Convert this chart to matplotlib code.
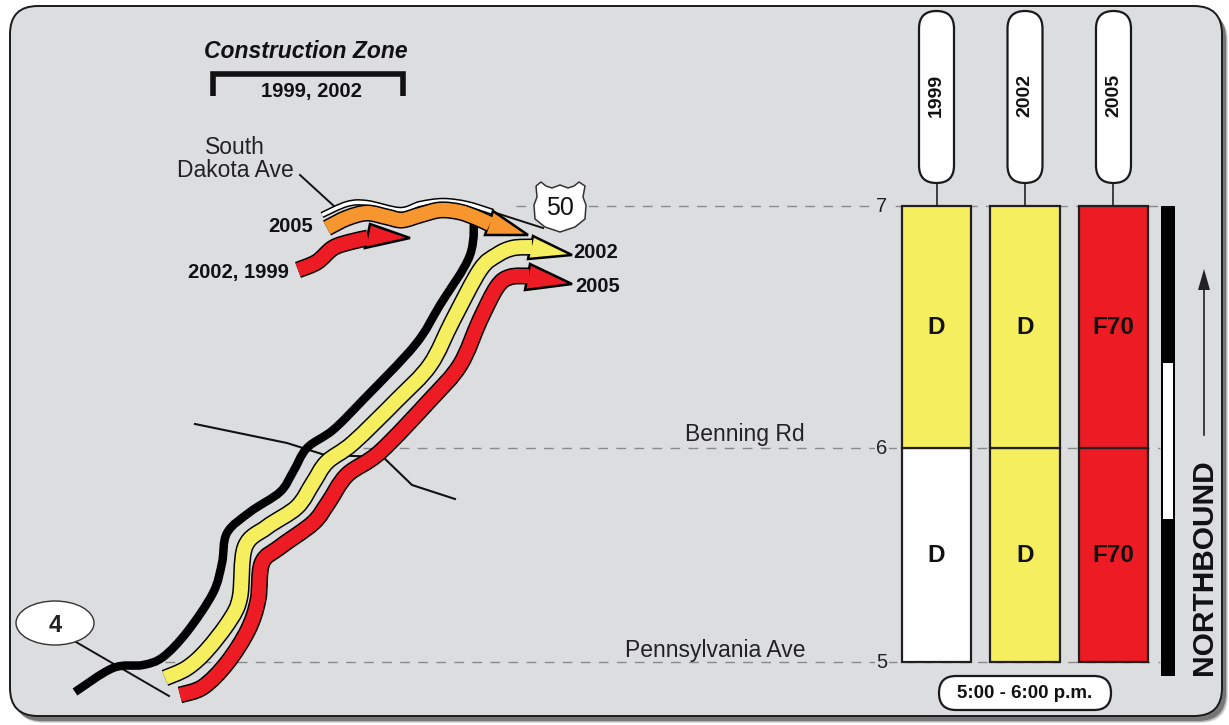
import numpy as np
import matplotlib
matplotlib.use('Agg')
import matplotlib.pyplot as plt
from matplotlib.patches import FancyBboxPatch, Ellipse, Polygon, PathPatch
from matplotlib.path import Path
from matplotlib.transforms import blended_transform_factory

plt.rcParams['font.family'] = ['Liberation Sans', 'DejaVu Sans']

# level of service per year, one list per mile segment
years = ['1999', '2002', '2005']
seg_miles = [(5, 6), (6, 7)]
seg_labels = [['D', 'D', 'F70'], ['D', 'D', 'F70']]
seg_colors = [['#ffffff', '#f5ef5f', '#ed1c24'], ['#f5ef5f', '#f5ef5f', '#ed1c24']]

# milepost reference lines, the miles are not evenly spaced on the strip
mile_ticks = [5, 6, 7]
mile_offset = [0, 214, 456]
mile_line_start = [165, 345, 516]
cross_streets = ['Pennsylvania Ave', 'Benning Rd']

# schematic queue routes (pixel positions of the map panel)
route_1999_x = [75, 113, 143, 163, 187, 213, 222, 227, 250, 280, 293, 307, 333, 363, 415, 440, 470, 474]
route_1999_y = [692, 668, 665, 657, 632, 593, 563, 533, 512, 492, 472, 448, 430, 400, 345, 305, 255, 212]
route_2002_x = [165, 187, 207, 230, 240, 245, 267, 297, 313, 327, 353, 397, 430, 453, 480, 497, 513, 532]
route_2002_y = [678, 668, 650, 620, 597, 547, 527, 507, 483, 462, 443, 400, 365, 320, 270, 255, 248, 247]
route_2005_x = [180, 203, 227, 248, 258, 262, 280, 313, 328, 347, 380, 430, 460, 480, 497, 510, 529]
route_2005_y = [695, 687, 663, 630, 600, 563, 547, 523, 503, 475, 452, 400, 365, 320, 287, 277, 276]
sd_2005_x = [327, 347, 367, 387, 402, 420, 440, 460, 477, 490]
sd_2005_y = [228, 218, 213, 217, 220, 215, 210, 212, 218, 224]
sd_2002_x = [298, 317, 333, 350, 368]
sd_2002_y = [270, 262, 248, 242, 238]
sd_road_x = [322, 347, 367, 400, 420, 443, 467, 493]
sd_road_y = [215, 204, 203, 210, 204, 201, 204, 212]
benning_x = [195, 287, 325, 383, 412, 455]
benning_y = [424, 443, 455, 457, 485, 499]


def smooth_path(xs, ys):
    # catmull-rom through the points, written as cubic bezier segments
    p = np.column_stack([xs, ys]).astype(float)
    p = np.vstack([p[0], p, p[-1]])
    verts = [p[1]]
    codes = [Path.MOVETO]
    for i in range(1, len(p) - 2):
        verts += [p[i] + (p[i + 1] - p[i - 1]) / 6, p[i + 1] - (p[i + 2] - p[i]) / 6, p[i + 1]]
        codes += [Path.CURVE4] * 3
    return Path(verts, codes)


def stroke(ax, xs, ys, color, px, z):
    ax.add_patch(PathPatch(smooth_path(xs, ys), fill=False, ec=color, lw=px * 0.72,
                           capstyle='butt', joinstyle='round', zorder=z))


def route(ax, xs, ys, color, px, z, head=None):
    stroke(ax, xs, ys, 'black', px + 3, z)
    if head is not None:
        ax.add_patch(Polygon(head, closed=True, fc=color, ec='black', lw=1.8, joinstyle='miter', zorder=z + 0.1))
    stroke(ax, xs, ys, color, px, z + 0.2)


def mile_to_pos(m):
    return np.interp(m, mile_ticks, mile_offset)


def pos_to_mile(p):
    return np.interp(p, mile_offset, mile_ticks)


fig = plt.figure(figsize=(12.29, 7.25), dpi=100, facecolor='white')
ax = fig.add_axes([0, 0, 1, 1])
ax.set_xlim(0, 1229)
ax.set_ylim(725, 0)
ax.axis('off')

# bar panel uses its own scale: mile on y, year index on x
ax_bar = fig.add_axes([902 / 1229, 1 - 662 / 725, 246 / 1229, 456 / 725])
ax_bar.patch.set_alpha(0)
ax_bar.set_yscale('function', functions=(mile_to_pos, pos_to_mile))
ax_bar.set_xlim(-0.39, 2.39)
ax_bar.set_ylim(5, 7)
ax_bar.axis('off')
mile_tr = blended_transform_factory(ax.transData, ax_bar.transData)

# panel with shadow
for off, a in [(7, 0.25), (6, 0.4), (5, 1)]:
    ax.add_patch(FancyBboxPatch((10 + off - 1, 6 + off), 1212, 710, boxstyle='round,pad=0,rounding_size=28',
                                fc='#767676', ec='none', alpha=a, zorder=0))
ax.add_patch(FancyBboxPatch((10, 6), 1212, 710, boxstyle='round,pad=0,rounding_size=28',
                            fc='#dcdddf', ec='#1a1a1a', lw=1.4, zorder=1))

# mile lines, ticks, cross street names
for m, x0 in zip(mile_ticks, mile_line_start):
    ax.plot([x0, 1160], [m, m], transform=mile_tr, color='#8a8a8a', lw=1,
            dashes=(7, 6), zorder=2)
    ax.text(882, m, str(m), transform=mile_tr, fontsize=14.5, color='#222222', ha='center', va='center',
            bbox=dict(fc='#dcdddf', ec='none', pad=1), zorder=3)
ax.text(715, 651, cross_streets[0], fontsize=16.5, color='#222222', ha='center', va='center', zorder=3)
ax.text(745, 434, cross_streets[1], fontsize=16.5, color='#222222', ha='center', va='center', zorder=3)

# thin map lines
ax.plot(benning_x, benning_y, color='#111111', lw=1.5, zorder=3)
ax.plot([76, 169], [642, 696], color='#111111', lw=1.4, zorder=3)
ax.plot([300, 335], [175, 207], color='#111111', lw=1.4, zorder=3)

# queue routes
stroke(ax, route_1999_x, route_1999_y, 'black', 8.5, 4)
route(ax, route_2002_x, route_2002_y, '#f5ef5f', 14, 5,
      head=[(533, 236), (572, 255), (528, 259)])
route(ax, route_2005_x, route_2005_y, '#ed1c24', 14, 5.5,
      head=[(530, 264), (572, 284), (525, 290)])
stroke(ax, sd_road_x, sd_road_y, 'black', 6.5, 6)
stroke(ax, sd_road_x, sd_road_y, 'white', 3.5, 6.1)
ax.plot([493, 543], [212, 228], color='#111111', lw=1.4, zorder=6)
route(ax, sd_2005_x, sd_2005_y, '#f7962f', 14, 6.5,
      head=[(493, 211), (528, 235), (485, 235)])
route(ax, sd_2002_x, sd_2002_y, '#ed1c24', 14, 6.5,
      head=[(370, 224), (410, 238), (365, 248)])

# route markers
ax.add_patch(Ellipse((55, 623), 78, 44, fc='white', ec='#333333', lw=1, zorder=7))
ax.text(55, 625, '4', fontsize=17, fontweight='bold', color='#222222', ha='center', va='center', zorder=8)
shield = Path([(536, 186), (541, 182), (546, 186), (552, 188), (560, 185), (568, 188), (574, 186), (579, 182),
               (585, 186), (583, 197), (586, 205), (585, 219), (575, 227), (560, 232), (545, 227), (535, 219),
               (534, 205), (537, 197), (536, 186)])
ax.add_patch(PathPatch(shield, fc='white', ec='#333333', lw=1.1, joinstyle='round', zorder=7))
ax.text(560, 208, '50', fontsize=18, color='#111111', ha='center', va='center', zorder=8)

# map labels
ax.text(235, 159, 'South\nDakota Ave', fontsize=16.5, color='#222222', ha='center', va='center',
        linespacing=1.0, zorder=8)
bold_labels = [('2005', 291, 226), ('2002, 1999', 238, 272), ('2002', 596, 252), ('2005', 598, 286)]
for s, x, y in bold_labels:
    ax.text(x, y, s, fontsize=14.5, fontweight='bold', color='#111111', ha='center', va='center', zorder=8)

# construction zone bracket
ax.text(306, 51, 'Construction Zone', fontsize=16.5, fontweight='bold', fontstyle='italic',
        color='#111111', ha='center', va='center', zorder=8)
ax.plot([213, 213, 403, 403], [96, 74, 74, 96], color='#111111', lw=4, solid_joinstyle='miter',
        solid_capstyle='butt', zorder=8)
ax.text(311, 91, '1999, 2002', fontsize=14.5, fontweight='bold', color='#111111', ha='center', va='center', zorder=8)

# level of service bars
for (lo, hi), labels, colors in zip(seg_miles, seg_labels, seg_colors):
    ax_bar.bar(range(len(years)), hi - lo, bottom=lo, width=0.78, color=colors, edgecolor='#231f20',
               linewidth=1.6, clip_on=False, zorder=2)
    for i, lab in enumerate(labels):
        ax_bar.text(i, lo + (hi - lo) * 0.5, lab, fontsize=17.5, fontweight='bold', color='#111111',
                    ha='center', va='center', zorder=3)

# year pills above the bars
for i, yr in enumerate(years):
    xc = ax.transData.inverted().transform(ax_bar.transData.transform((i, 7)))[0]
    ax.plot([xc, xc], [183, 206], color='#222222', lw=1.2, zorder=3)
    ax.add_patch(FancyBboxPatch((xc - 17.5, 11), 35, 172, boxstyle='round,pad=0,rounding_size=17.5',
                                fc='white', ec='#1a1a1a', lw=1.6, zorder=4))
    ax.text(xc, 95, yr, fontsize=14, fontweight='bold', color='#111111', rotation=90,
            ha='center', va='center', zorder=5)

# time period
ax.add_patch(FancyBboxPatch((939, 676), 172, 34, boxstyle='round,pad=0,rounding_size=17',
                            fc='white', ec='#1a1a1a', lw=1.6, zorder=4))
ax.text(1025, 693, '5:00 - 6:00 p.m.', fontsize=13.5, fontweight='bold', color='#111111',
        ha='center', va='center', zorder=5)

# direction strip
ax.fill_between([1161, 1175], 206, 676, color='black', lw=0, zorder=3)
ax.fill_between([1163, 1173], 363, 519, color='white', lw=0, zorder=4)
ax.text(1204, 567, 'NORTHBOUND', fontsize=21.5, fontweight='bold', color='#111111', rotation=90,
        ha='center', va='center', zorder=5)
ax.plot([1204, 1204], [435, 285], color='#222222', lw=1.2, zorder=5)
ax.add_patch(Polygon([(1204, 269), (1210, 290), (1198, 290)], closed=True, fc='#222222', ec='none', zorder=5))

fig.savefig('out.png', dpi=100)
